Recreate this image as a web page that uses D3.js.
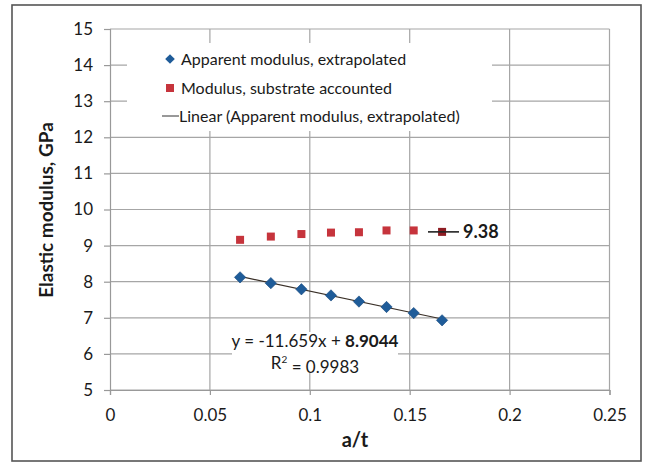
<!DOCTYPE html>
<html><head><meta charset="utf-8">
<script src="https://cdn.jsdelivr.net/npm/d3@7/dist/d3.min.js"></script>
<style>
html,body{margin:0;padding:0;background:#fff;}
svg{display:block;}
text{font-family:Lato,"Liberation Sans",Arial,sans-serif;fill:#1a1a1a;}
</style></head>
<body>
<svg id="chart" width="645" height="464"></svg>
<script>
const aOverT = [0.0651, 0.0805, 0.0958, 0.1106, 0.1246, 0.1384, 0.1520, 0.1662];
const apparentModulus = [8.12, 7.96, 7.79, 7.62, 7.45, 7.30, 7.13, 6.93];
const substrateModulus = [9.16, 9.25, 9.32, 9.36, 9.37, 9.42, 9.42, 9.38];
const xTicks = [0, 0.05, 0.1, 0.15, 0.2, 0.25];
const yTicks = [5, 6, 7, 8, 9, 10, 11, 12, 13, 14, 15];
const slope = -11.659, intercept = 8.9044;
const legendLabels = ["Apparent modulus, extrapolated", "Modulus, substrate accounted", "Linear (Apparent modulus, extrapolated)"];

const FONT = 'Lato,"Liberation Sans",Arial,sans-serif';
const svg = d3.select("#chart");
const m = {left:110, right:609.5, top:29, bottom:390};
const x = d3.scaleLinear().domain([0, 0.25]).range([m.left, m.right]);
const y = d3.scaleLinear().domain([5, 15]).range([m.bottom, m.top]);

// outer frame
svg.append("rect").attr("x",12).attr("y",5).attr("width",629).attr("height",456)
  .attr("fill","#fff").attr("stroke","#555").attr("stroke-width",1.6);

const gridColor = "#a6a6a6";
svg.append("g").selectAll("line").data(yTicks).join("line")
  .attr("x1", m.left).attr("x2", m.right).attr("y1", d=>y(d)).attr("y2", d=>y(d))
  .attr("stroke", gridColor).attr("stroke-width",1.2);
svg.append("g").selectAll("line").data(xTicks.slice(1)).join("line")
  .attr("y1", m.top).attr("y2", m.bottom).attr("x1", d=>x(d)).attr("x2", d=>x(d))
  .attr("stroke", gridColor).attr("stroke-width",1.2);

// axes
const yAxis = svg.append("g").attr("transform",`translate(${m.left},0)`)
  .call(d3.axisLeft(y).tickValues(yTicks).tickSize(6).tickPadding(11).tickFormat(d3.format("d")));
const xAxis = svg.append("g").attr("transform",`translate(0,${m.bottom})`)
  .call(d3.axisBottom(x).tickValues(xTicks).tickSize(5).tickPadding(14).tickFormat(d=>d===0?"0":String(d)));
[yAxis, xAxis].forEach(g=>{
  g.select(".domain").attr("stroke","#999").attr("stroke-width",1.2);
  g.selectAll(".tick line").attr("stroke","#999").attr("stroke-width",1.2);
  g.selectAll(".tick text").attr("font-size",17).attr("fill","#1a1a1a").style("font-family",FONT);
});

// legend box
svg.append("rect").attr("x",127).attr("y",43).attr("width",365).attr("height",88).attr("fill","#fff");
const lg = svg.append("g");
const legY = [59, 88, 116];
lg.append("rect").attr("x",-3.4).attr("y",-3.4).attr("width",6.8).attr("height",6.8)
  .attr("transform",`translate(170,${legY[0]}) rotate(45)`).attr("fill","#1f5c99");
lg.append("rect").attr("x",166).attr("y",legY[1]-4).attr("width",8).attr("height",8).attr("fill","#c6343c");
lg.append("line").attr("x1",162).attr("x2",179).attr("y1",legY[2]).attr("y2",legY[2]).attr("stroke","#333").attr("stroke-width",1);
lg.selectAll("text").data(legendLabels).join("text")
  .attr("x",(d,i)=> i===2 ? 179 : 181).attr("y",(d,i)=>legY[i]).attr("dy","0.35em")
  .attr("font-size",16).text(d=>d);

// trendline
const x0 = d3.min(aOverT), x1 = d3.max(aOverT);
svg.append("line").attr("x1",x(x0)).attr("y1",y(slope*x0+intercept))
  .attr("x2",x(x1)).attr("y2",y(slope*x1+intercept))
  .attr("stroke","#3a3028").attr("stroke-width",1.2);

// blue diamonds
const ds = 8;
svg.append("g").selectAll("rect").data(aOverT).join("rect")
  .attr("x",-ds/2).attr("y",-ds/2).attr("width",ds).attr("height",ds)
  .attr("transform",(d,i)=>`translate(${x(d)},${y(apparentModulus[i])}) rotate(45)`)
  .attr("fill","#1f5c99").attr("stroke","#174a80").attr("stroke-width",0.6);

// equation label
svg.append("rect").attr("x",232).attr("y",332).attr("width",166).attr("height",40).attr("fill","#fff");
const eq = svg.append("text").attr("x",315).attr("y",341).attr("dy","0.35em").attr("text-anchor","middle").attr("font-size",17);
eq.append("tspan").text(`y = ${slope}x + `);
eq.append("tspan").attr("font-weight","bold").text(intercept.toFixed(4));
const r2 = svg.append("text").attr("x",315).attr("y",363).attr("dy","0.35em").attr("text-anchor","middle").attr("font-size",17);
r2.append("tspan").text("R");
r2.append("tspan").attr("font-size",10).attr("dy","-0.6em").text("2");
r2.append("tspan").attr("dy","0.6em").text(" = 0.9983");

// red squares
const sq = 8;
svg.append("g").selectAll("rect").data(aOverT).join("rect")
  .attr("x",d=>x(d)-sq/2).attr("y",(d,i)=>y(substrateModulus[i])-sq/2)
  .attr("width",sq).attr("height",sq)
  .attr("fill",(d,i)=> i===aOverT.length-1 ? "#8e1c22" : "#c6343c");

// data label 9.38
const lastI = aOverT.length-1;
const ly = y(substrateModulus[lastI]);
svg.append("rect").attr("x",457).attr("y",ly-11).attr("width",43).attr("height",22).attr("fill","#fff");
svg.append("line").attr("x1",428).attr("x2",459).attr("y1",ly).attr("y2",ly).attr("stroke","#222").attr("stroke-width",1.6);
svg.append("text").attr("x",463).attr("y",ly).attr("dy","0.35em").attr("font-size",18).attr("font-weight","bold")
  .text(substrateModulus[lastI].toFixed(2));

// axis titles
svg.append("text").attr("transform","translate(53,210) rotate(-90)").attr("text-anchor","middle")
  .attr("font-size",19).attr("font-weight","bold").text("Elastic modulus, GPa");
svg.append("text").attr("x",355).attr("y",447).attr("text-anchor","middle")
  .attr("font-size",20).attr("font-weight","bold").text("a/t");
</script>
</body></html>
